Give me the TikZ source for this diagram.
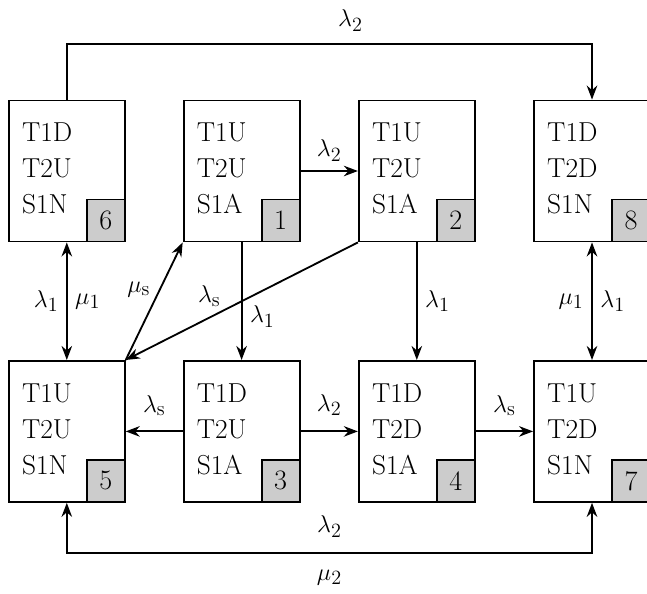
\documentclass[tikz,border=0pt]{standalone}
\usepackage{amsmath, amssymb}
\usepackage{tikz}
\usetikzlibrary{
  arrows.meta,%
  calc,%
  positioning
}
\tikzset{>={Stealth[length=10pt, width=7.5pt]}}
\tikzset{state/.style={draw, minimum width=2.9cm, minimum height=3.525cm, inner sep=0pt},
  vars/.style={anchor=north west, align=left, inner sep=0pt,
    font=\fontsize{19.5}{25.6}\selectfont},
  numbox/.style={draw, fill=gray!40, anchor=south east, minimum width=0.95cm,
    minimum height=1.05cm, inner sep=0pt, font=\fontsize{20}{22}\selectfont},
  lab/.style={font=\fontsize{19}{20}\selectfont}}
\newcommand{\lam}[1]{$\lambda_{\mathrm{#1}}$}
\newcommand{\mmu}[1]{$\mu_{\mathrm{#1}}$}

\begin{document}
\begin{tikzpicture}[line width=1.3pt]
              \useasboundingbox (0, 0) rectangle (16.175, 14.825); %
              % top row
              \node[state] (s6) at (1.67, 10.55) {}; %
              \node[state] (s1) at (6.04, 10.55) {}; %
              \node[state] (s2) at (10.42, 10.55) {}; %
              \node[state] (s8) at (14.8, 10.55) {}; %
              % bottom row
              \node[state] (s5) at (1.67, 4.04) {}; %
              \node[state] (s3) at (6.04, 4.04) {}; %
              \node[state] (s4) at (10.42, 4.04) {}; %
              \node[state] (s7) at (14.8, 4.04) {}; %
              % contents
              \node[vars] (t6) at ($(s6.north west)+(0.33,-0.56)$) {T1D\\T2U\\S1N}; %
              \node[vars] (t1) at ($(s1.north west)+(0.33,-0.56)$) {T1U\\T2U\\S1A}; %
              \node[vars] (t2) at ($(s2.north west)+(0.33,-0.56)$) {T1U\\T2U\\S1A}; %
              \node[vars] (t8) at ($(s8.north west)+(0.33,-0.56)$) {T1D\\T2D\\S1N}; %
              \node[vars] (t5) at ($(s5.north west)+(0.33,-0.56)$) {T1U\\T2U\\S1N}; %
              \node[vars] (t3) at ($(s3.north west)+(0.33,-0.56)$) {T1D\\T2U\\S1A}; %
              \node[vars] (t4) at ($(s4.north west)+(0.33,-0.56)$) {T1D\\T2D\\S1A}; %
              \node[vars] (t7) at ($(s7.north west)+(0.33,-0.56)$) {T1U\\T2D\\S1N}; %
              \node[numbox] (n6) at (s6.south east) {6}; %
              \node[numbox] (n1) at (s1.south east) {1}; %
              \node[numbox] (n2) at (s2.south east) {2}; %
              \node[numbox] (n8) at (s8.south east) {8}; %
              \node[numbox] (n5) at (s5.south east) {5}; %
              \node[numbox] (n3) at (s3.south east) {3}; %
              \node[numbox] (n4) at (s4.south east) {4}; %
              \node[numbox] (n7) at (s7.south east) {7}; %
              % transitions
              \coordinate (top) at (0, 13.725); %
              \coordinate (bot) at (0, 1.0); %
              \draw[->] (s6.north) -- (s6.north |- top) -| node[lab, pos=0.27, above=5pt]{\lam{2}} (s8.north); %
              \draw[->] (s1.east) -- node[lab, above=3pt]{\lam{2}} (s2.west); %
              \draw[<->] (s6.south) -- node[lab, left=2pt]{\lam{1}} node[lab, right=2pt]{\mmu{1}} (s5.north); %
              \draw[->] (s5.north east) -- node[lab, left=3pt, pos=0.6]{\mmu{s}} (s1.south west); %
              \draw[->] (s2.south west) -- node[lab, above=4pt, pos=0.64]{\lam{s}} (s5.north east); %
              \draw[->] (s1.south) -- node[lab, right=2pt, pos=0.63]{\lam{1}} (s3.north); %
              \draw[->] (s2.south) -- node[lab, right=2pt]{\lam{1}} (s4.north); %
              \draw[<->] (s8.south) -- node[lab, left=2pt]{\mmu{1}} node[lab, right=2pt]{\lam{1}} (s7.north); %
              \draw[->] (s3.west) -- node[lab, above=7pt]{\lam{s}} (s5.east); %
              \draw[->] (s3.east) -- node[lab, above=7pt]{\lam{2}} (s4.west); %
              \draw[->] (s4.east) -- node[lab, above=7pt]{\lam{s}} (s7.west); %
              \draw[<->] (s5.south) -- (s5.south |- bot) -| node[lab, pos=0.25, above=7pt]{\lam{2}} node[lab, pos=0.25, below=8pt]{\mmu{2}} (s7.south); %
            \end{tikzpicture}
\end{document}
